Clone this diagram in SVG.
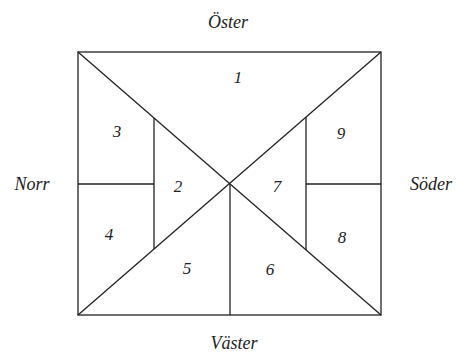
<svg xmlns="http://www.w3.org/2000/svg" width="459" height="352" viewBox="0 0 459 352">
<style>
.l{stroke:#222;stroke-width:1.3;fill:none}
.t{font-family:'Liberation Serif','DejaVu Serif',Times,serif;font-style:italic;fill:#222;text-anchor:middle}
.d{font-size:18px}
.n{font-size:17px}
</style>
<rect width="459" height="352" fill="#fff"/>
<g id="connectors">
<rect class="l" x="78" y="52" width="303" height="263"/>
<line class="l" x1="78" y1="52" x2="381" y2="315"/>
<line class="l" x1="381" y1="52" x2="78" y2="315"/>
<line class="l" x1="154" y1="118" x2="154" y2="249"/>
<line class="l" x1="306" y1="117" x2="306" y2="250"/>
<line class="l" x1="78" y1="184" x2="154" y2="184"/>
<line class="l" x1="306" y1="184" x2="381" y2="184"/>
<line class="l" x1="230" y1="184" x2="230" y2="315"/>
</g>
<g id="labels">
<text class="t d" x="228" y="28">Öster</text>
<text class="t d" x="32" y="190">Norr</text>
<text class="t d" x="431" y="190">Söder</text>
<text class="t d" x="234" y="349">Väster</text>
</g>
<g id="n1"><text class="t n" x="238" y="83">1</text></g>
<g id="n2"><text class="t n" x="178" y="192">2</text></g>
<g id="n3"><text class="t n" x="117" y="137">3</text></g>
<g id="n4"><text class="t n" x="109" y="240">4</text></g>
<g id="n5"><text class="t n" x="187" y="274">5</text></g>
<g id="n6"><text class="t n" x="270" y="275">6</text></g>
<g id="n7"><text class="t n" x="277" y="192">7</text></g>
<g id="n8"><text class="t n" x="342" y="243">8</text></g>
<g id="n9"><text class="t n" x="341" y="139">9</text></g>
</svg>
